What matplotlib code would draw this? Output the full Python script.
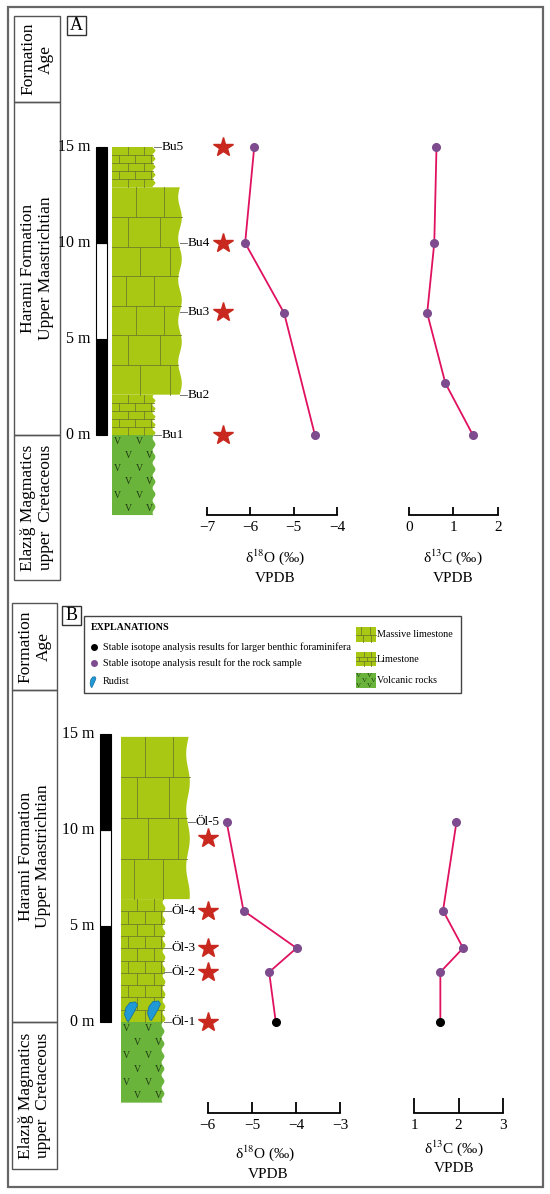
import numpy as np
import matplotlib.pyplot as plt
from matplotlib.patches import Rectangle, Polygon

plt.rcParams['font.family'] = ['Liberation Serif', 'DejaVu Serif']
plt.rcParams['mathtext.fontset'] = 'stix'

W, H = 550, 1194
PPM = 19.2  # pixels per metre in the logs

# ---- section A (Bu) ----
a_lith_kind = ["volcanic", "limestone", "massive", "limestone"]
a_lith_base = [-4.17, 0.0, 2.1, 12.9]
a_lith_top = [0.0, 2.1, 12.9, 15.0]
a_samples = ["Bu1", "Bu2", "Bu3", "Bu4", "Bu5"]
a_sample_m = [0.0, 2.1, 6.4, 10.0, 15.0]
a_star_m = [0.0, 6.4, 10.0, 15.0]
a_d18o_m = [0.0, 6.35, 10.0, 15.0]
a_d18o = [-4.51, -5.22, -6.12, -5.91]
a_d13c_m = [0.0, 2.7, 6.35, 10.0, 15.0]
a_d13c = [1.44, 0.82, 0.41, 0.57, 0.62]

# ---- section B (Öl) ----
b_lith_kind = ["volcanic", "limestone", "massive"]
b_lith_base = [-4.2, 0.0, 6.4]
b_lith_top = [0.0, 6.4, 14.85]
b_samples = ["Öl-1", "Öl-2", "Öl-3", "Öl-4", "Öl-5"]
b_sample_m = [0.0, 2.6, 3.85, 5.8, 10.4]
b_star_m = [0.0, 2.6, 3.85, 5.8, 9.6]
b_d18o = [-4.46, -4.61, -3.99, -5.19, -5.57]
b_d13c = [1.59, 1.59, 2.10, 1.65, 1.95]
b_source = ["foram", "rock", "rock", "rock", "rock"]
b_rudist_x = [131, 154]
b_rudist_m = [0.55, 0.6]

scale_ticks = [0, 5, 10, 15]

lime_color = '#a9c814'
volc_color = '#6ab43c'
joint_color = '#6f7d2a'
star_color = '#c8281e'
line_color = '#e0115f'
rock_color = '#7d4b8e'
foram_color = '#000000'

fig = plt.figure(figsize=(W / 100, H / 100), dpi=100)
bg = fig.add_axes([0, 0, 1, 1])
bg.set_xlim(0, W)
bg.set_ylim(H, 0)
bg.axis('off')


def m_axes(x0, x1, m0, m1, zero_px):
    top = zero_px - PPM * m1
    bot = zero_px - PPM * m0
    ax = fig.add_axes([x0 / W, 1 - bot / H, (x1 - x0) / W, (bot - top) / H])
    ax.set_ylim(m0, m1)
    ax.patch.set_alpha(0)
    return ax


def draw_unit(ax, kind, x0, xr, y0, y1, bed, wave=True, vsize=7):
    if wave:
        ys = np.linspace(y0, y1, 120)
        amp = 1.8 if kind == 'massive' else 1.4
        per = bed * (1.4 if kind == 'massive' else 1.0)
        xs = xr + amp * np.sin(2 * np.pi * ys / per)
    else:
        ys = np.array([y0, y1])
        xs = np.array([xr, xr])
    color = volc_color if kind == 'volcanic' else lime_color
    pts = np.column_stack([np.r_[x0, xs, x0], np.r_[y0, ys, y1]])
    ax.add_patch(Polygon(pts, closed=True, fc=color, ec='none', zorder=2))

    def edge(y):
        return np.interp(y, ys, xs)

    if kind == 'volcanic':
        n_rows = max(1, int(round((y1 - y0) / bed)))
        step = (y1 - y0) / n_rows
        for i in range(n_rows):
            yc = y1 - (i + 0.5) * step
            fr = [0.14, 0.66] if i % 2 == 0 else [0.4, 0.88]
            for f in fr:
                ax.text(x0 + f * (xr - x0), yc, 'V', fontsize=vsize, color='#203a14',
                        ha='center', va='center', zorder=3)
        return

    n_beds = max(1, int(round((y1 - y0) / bed)))
    bounds = np.linspace(y0, y1, n_beds + 1)
    for yb in bounds[1:-1]:
        ax.plot([x0, edge(yb)], [yb, yb], color=joint_color, lw=0.6, zorder=3)
    if kind == 'massive':
        fracs = [(0.36, 0.77), (0.24, 0.71), (0.41, 0.85), (0.2, 0.62)]
    else:
        fracs = [(0.38, 0.76), (0.17, 0.55, 0.93)]
    for i in range(n_beds):
        ya, yb = bounds[i], bounds[i + 1]
        right = min(edge(ya), edge(yb))
        for f in fracs[(n_beds - 1 - i) % len(fracs)]:
            xj = x0 + f * (xr - x0)
            if xj < right - 1:
                ax.plot([xj, xj], [ya, yb], color=joint_color, lw=0.6, zorder=3)


def draw_panel(zero_px, col_x0, col_right, kinds, bases, tops, samples, sample_m,
               star_x, star_m, bar_x, label_x, thin_bed, mass_bed):
    ax = m_axes(0, W, -6, 16.5, zero_px)
    ax.set_xlim(0, W)
    ax.axis('off')
    for kind, b, t in zip(kinds, bases, tops):
        bed = {'volcanic': 0.65, 'limestone': thin_bed, 'massive': mass_bed}[kind]
        draw_unit(ax, kind, col_x0, col_right[kind], b, t, bed)
    # scale bar
    for i in range(len(scale_ticks) - 1):
        lo, hi = scale_ticks[i], scale_ticks[i + 1]
        ax.add_patch(Rectangle((bar_x, lo), 11, hi - lo, fc='black' if i % 2 == 0 else 'white',
                               ec='black', lw=0.8, zorder=3))
    for t in scale_ticks:
        ax.text(label_x, t, f"{t} m", fontsize=11.5, ha='right', va='center')
    # sample labels with leader lines
    for name, m in zip(samples, sample_m):
        xr = max(col_right[k] for k, b, t in zip(kinds, bases, tops) if b - 1e-6 <= m <= t + 1e-6)
        ax.plot([xr, xr + 7], [m, m], color='#777777', lw=0.7)
        ax.text(xr + 8, m, name, fontsize=9.5, ha='left', va='center')
    ax.plot([star_x] * len(star_m), star_m, ls='none', marker='*', ms=15, color=star_color,
            clip_on=False, zorder=4)
    return ax


def iso_axes(x0, x1, xlim, spine_px, zero_px, ticks, tick_len):
    m0 = (zero_px - spine_px) / PPM
    ax = m_axes(x0, x1, m0, 16.5, zero_px)
    ax.set_xlim(*xlim)
    for s in ['top', 'left', 'right']:
        ax.spines[s].set_visible(False)
    ax.spines['bottom'].set_linewidth(1.3)
    ax.set_yticks([])
    ax.set_xticks(ticks)
    ax.tick_params(axis='x', direction='in', length=tick_len, width=1.3, labelsize=11, pad=4)
    return ax


# ---------------- frames and boxes ----------------
bg.add_patch(Rectangle((8, 7), 535, 1180, fill=False, ec='#666666', lw=1.6))
for (x0, x1, ys) in [(14, 60, [16, 102, 435, 580]), (12, 57, [603, 690, 1022, 1169])]:
    for ya, yb in zip(ys[:-1], ys[1:]):
        bg.add_patch(Rectangle((x0, ya), x1 - x0, yb - ya, fill=False, ec='#555555', lw=1.0))
box_texts = ["Formation\nAge", "Harami Formation\nUpper Maastrichtian",
             "Elazığ Magmatics\nupper  Cretaceous"]
for xc, ys in [(37, [16, 102, 435, 580]), (34.5, [603, 690, 1022, 1169])]:
    for txt, ya, yb in zip(box_texts, ys[:-1], ys[1:]):
        bg.text(xc, (ya + yb) / 2, txt, rotation=90, fontsize=12.5, ha='center', va='center',
                multialignment='center', linespacing=1.15)

for lab, (x0, y0) in [("A", (67, 16)), ("B", (62, 606))]:
    bg.add_patch(Rectangle((x0, y0), 19, 19, fill=False, ec='#333333', lw=1.0))
    bg.text(x0 + 9.5, y0 + 10, lab, fontsize=13, ha='center', va='center')

# ---------------- panel A ----------------
draw_panel(435, 112, {'volcanic': 154, 'limestone': 154, 'massive': 180},
           a_lith_kind, a_lith_base, a_lith_top, a_samples, a_sample_m,
           223, a_star_m, 96, 90, 0.42, 1.54)
ax = iso_axes(207, 337, (-7, -4), 515, 435, [-7, -6, -5, -4], 6)
ax.plot(a_d18o, a_d18o_m, color=line_color, lw=1.3, marker='o', ms=5.5,
        mfc=rock_color, mec=rock_color, clip_on=False, zorder=5)
ax = iso_axes(409, 497.7, (0, 2), 515, 435, [0, 1, 2], 6)
ax.plot(a_d13c, a_d13c_m, color=line_color, lw=1.3, marker='o', ms=5.5,
        mfc=rock_color, mec=rock_color, clip_on=False, zorder=5)
bg.text(275, 557, "δ$^{18}$O (‰)", fontsize=11, ha='center', va='center')
bg.text(275, 578, "VPDB", fontsize=11, ha='center', va='center')
bg.text(453, 557, "δ$^{13}$C (‰)", fontsize=11, ha='center', va='center')
bg.text(453, 578, "VPDB", fontsize=11, ha='center', va='center')

# ---------------- panel B ----------------
axb = draw_panel(1022, 121, {'volcanic': 163, 'limestone': 164, 'massive': 188},
                 b_lith_kind, b_lith_base, b_lith_top, b_samples, b_sample_m,
                 208, b_star_m, 100, 95, 0.64, 2.1)


def rudist(ax, cx, cy, sx, sy):
    shape = np.array([(-4, -9.5), (-6.5, -3), (-5, 4), (-1, 9), (4.5, 9.5), (6.5, 6.5),
                      (4, 1), (0, -6), (-2.5, -10)])
    pts = np.column_stack([cx + shape[:, 0] * sx, cy + shape[:, 1] * sy])
    ax.add_patch(Polygon(pts, closed=True, fc='#1f9ad6', ec='#0e6a9c', lw=0.5, zorder=4))


for rx, rm in zip(b_rudist_x, b_rudist_m):
    rudist(axb, rx, rm, 1.0, 1.0 / PPM)

src_color = {"foram": foram_color, "rock": rock_color}
ax = iso_axes(207.7, 340.3, (-6, -3), 1113, 1022, [-6, -5, -4, -3], 8)
ax.plot(b_d18o, b_sample_m, color=line_color, lw=1.3, clip_on=False, zorder=4)
for v, m, s in zip(b_d18o, b_sample_m, b_source):
    ax.plot(v, m, marker='o', ms=5.5, color=src_color[s], clip_on=False, zorder=5)
ax = iso_axes(414, 503.3, (1, 3), 1113, 1022, [1, 2, 3], 11)
ax.plot(b_d13c, b_sample_m, color=line_color, lw=1.3, clip_on=False, zorder=4)
for v, m, s in zip(b_d13c, b_sample_m, b_source):
    ax.plot(v, m, marker='o', ms=5.5, color=src_color[s], clip_on=False, zorder=5)
bg.text(265, 1153, "δ$^{18}$O (‰)", fontsize=11, ha='center', va='center')
bg.text(268, 1175, "VPDB", fontsize=11, ha='center', va='center')
bg.text(454, 1148, "δ$^{13}$C (‰)", fontsize=11, ha='center', va='center')
bg.text(454, 1169, "VPDB", fontsize=11, ha='center', va='center')

# ---------------- explanations ----------------
bg.add_patch(Rectangle((84, 616), 377, 77, fill=False, ec='#444444', lw=1.0))
bg.text(91, 628, "EXPLANATIONS", fontsize=7.2, fontweight='bold', ha='left', va='center')
bg.plot(94, 647, 'o', ms=4, color=foram_color)
bg.text(103, 647, "Stable isotope analysis results for larger benthic foraminifera",
        fontsize=7.3, ha='left', va='center')
bg.plot(94, 663, 'o', ms=4, color=rock_color)
bg.text(103, 663, "Stable isotope analysis result for the rock sample",
        fontsize=7.3, ha='left', va='center')
rudist(bg, 93, 682, 0.45, -0.55)
bg.text(103, 682, "Rudist", fontsize=7.3, ha='left', va='center')
legend_lith = [("massive", "Massive limestone", 627, 642, 7.5),
               ("limestone", "Limestone", 652, 666, 4.7),
               ("volcanic", "Volcanic rocks", 673, 688, 5.0)]
for kind, txt, ya, yb, bed in legend_lith:
    draw_unit(bg, kind, 356, 376, ya, yb, bed, wave=False, vsize=5)
    bg.text(377, (ya + yb) / 2, txt, fontsize=7.3, ha='left', va='center')

fig.savefig('out.png', dpi=100)
